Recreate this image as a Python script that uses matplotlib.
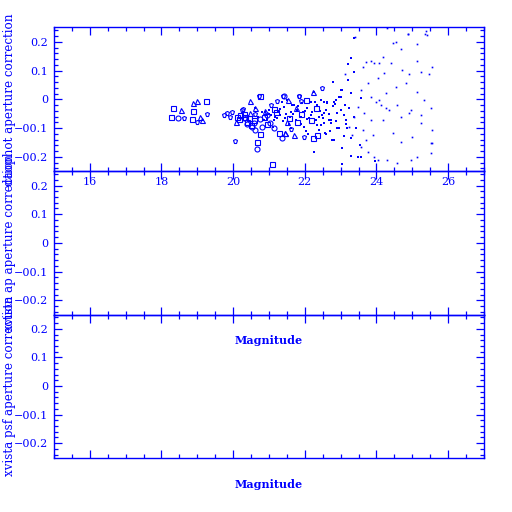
import matplotlib
matplotlib.use("Agg")
import matplotlib.pyplot as plt
from matplotlib.ticker import MultipleLocator

# aperture corrections vs magnitude
sq_mag = [18.31, 18.26, 19.24, 18.87, 18.85, 20.67, 20.11, 20.20, 20.34, 20.39, 20.57, 20.43,
          20.76, 20.76, 21.13, 21.28, 22.02, 22.24, 22.35, 21.79, 22.16, 21.07, 20.95,
          20.15, 20.30, 20.50, 20.85, 21.20, 21.55, 21.90, 22.30]
sq_dy = [-0.030, -0.060, -0.005, -0.040, -0.067, -0.150, -0.061, -0.055, -0.061, -0.078, -0.072, -0.066,
         0.013, -0.122, -0.035, -0.118, -0.002, -0.136, -0.124, -0.078, -0.072, -0.225, -0.087,
         -0.070, -0.050, -0.090, -0.060, -0.045, -0.065, -0.050, -0.030]

tri_mag = [18.54, 18.87, 18.99, 19.08, 19.14, 20.48, 20.07, 20.62, 20.48, 21.53, 21.46, 22.24,
           21.69, 21.51, 21.46, 20.90, 21.75]
tri_dy = [-0.037, -0.012, -0.006, -0.062, -0.073, -0.005, -0.078, -0.031, -0.049, -0.002, -0.118, 0.026,
          -0.124, -0.078, -0.118, -0.040, -0.030]

circ_mag = [18.45, 20.67, 20.53, 20.57, 20.81, 21.37, 20.95, 21.04, 20.62, 20.30, 21.41,
            20.40, 20.75, 21.15]
circ_dy = [-0.066, -0.173, -0.095, -0.083, -0.095, -0.136, -0.055, -0.083, -0.107, -0.066, 0.013,
           -0.085, -0.070, -0.100]

pent_mag = [18.62, 18.98, 19.26, 20.04, 19.74, 19.83, 19.92, 19.97, 20.25, 20.27, 20.72, 21.21,
            21.60, 21.84, 21.88, 21.97, 22.47, 21.40, 21.84, 20.60, 21.05]
pent_dy = [-0.064, -0.080, -0.052, -0.145, -0.055, -0.049, -0.061, -0.043, -0.037, -0.034, 0.011, -0.005,
           -0.104, 0.011, -0.006, -0.130, 0.038, 0.011, 0.012, -0.050, -0.020]

dense_mag = [20.62, 20.85, 20.99, 21.13, 21.18, 21.32, 21.41, 21.51, 21.60, 21.65, 21.74, 21.79,
             21.88, 21.93, 21.97, 22.07, 22.11, 22.16, 22.21, 22.25, 22.30, 22.35, 22.39, 22.44,
             22.49, 22.53, 22.58, 22.63, 22.72, 22.77, 22.86, 22.91, 22.95, 22.95, 23.00, 22.53,
             22.63, 22.81, 23.00, 23.05, 23.28, 22.53, 22.67, 22.72, 22.91, 23.19, 23.14, 23.37,
             23.42, 23.00, 23.23, 23.56, 22.55, 22.81, 23.09, 23.28, 23.54, 23.04, 23.29, 23.47,
             23.96, 22.25, 22.80, 23.37, 23.30, 23.21, 23.36, 23.21, 23.03, 23.56, 21.25, 21.55,
             21.00, 21.70, 22.00, 22.40, 22.10, 21.45, 21.90, 22.60, 20.90, 21.35,
             20.70, 20.80, 20.95, 21.05, 21.22, 21.30, 21.38, 21.48, 21.58, 21.68, 21.82, 21.95,
             22.05, 22.18, 22.28, 22.42, 22.50, 22.68, 22.78, 22.88, 23.10, 23.15, 22.45, 22.70,
             21.10, 21.62, 22.02, 22.33, 22.85, 23.12]
dense_dy = [-0.031, -0.072, -0.037, -0.072, -0.061, -0.055, -0.026, -0.002, -0.043, -0.020, -0.072, -0.037,
            -0.061, -0.014, -0.095, -0.031, -0.066, -0.008, -0.043, 0.026, -0.072, -0.020, -0.107, -0.002,
            -0.055, -0.083, -0.037, -0.008, -0.072, -0.142, -0.002, -0.049, 0.009, -0.101, 0.032, -0.008,
            -0.014, -0.008, 0.009, 0.032, 0.023, -0.049, -0.072, -0.083, -0.101, -0.101, -0.072, -0.061,
            -0.101, -0.037, -0.031, 0.003, -0.118, -0.142, -0.128, -0.136, -0.159, -0.170, -0.197, -0.200,
            -0.214, -0.182, 0.061, 0.214, 0.145, 0.122, 0.096, 0.067, -0.225, -0.200, -0.045, -0.085,
            -0.050, -0.020, -0.040, -0.060, -0.120, -0.065, -0.085, -0.120, -0.045, -0.010,
            -0.060, -0.045, -0.070, -0.055, -0.065, -0.035, -0.075, -0.050, -0.060, -0.050, -0.025, -0.045,
            -0.070, -0.055, -0.010, -0.040, -0.065, -0.050, -0.025, -0.075, -0.055, -0.085, -0.090, -0.110,
            -0.095, -0.100, -0.110, -0.090, -0.015, -0.020]

faint_mag = [23.39, 23.12, 23.62, 23.70, 23.86, 23.93, 24.07, 24.17, 24.40, 24.45, 24.54, 24.68,
             24.87, 25.13, 25.14, 25.36, 25.47, 25.54, 25.24, 24.91, 24.72, 24.21, 24.03, 23.75,
             23.56, 23.84, 24.12, 24.35, 24.68, 24.96, 25.24, 25.52, 25.33, 25.14, 24.82, 24.54,
             24.26, 23.98, 23.84, 24.17, 24.45, 24.68, 25.00, 25.52, 25.52, 25.14, 24.96, 24.58,
             24.30, 24.03, 23.93, 23.75, 23.70, 23.89, 23.56, 23.61, 23.66, 23.47, 23.37, 23.23,
             23.33, 24.07, 24.26, 24.58, 24.91, 25.24, 25.56, 25.56, 24.30, 24.87, 25.38, 25.42]
faint_dy = [0.216, 0.087, 0.113, 0.129, 0.134, 0.125, 0.127, 0.146, 0.125, 0.195, 0.200, 0.174,
            0.227, 0.134, 0.192, 0.226, 0.088, 0.111, 0.096, 0.088, 0.102, 0.090, 0.073, 0.056,
            0.032, 0.009, -0.020, -0.037, -0.060, -0.037, -0.083, -0.031, -0.002, 0.026, 0.056, 0.044,
            0.021, -0.008, -0.072, -0.072, -0.118, -0.147, -0.130, -0.153, -0.186, -0.200, -0.211, -0.223,
            -0.211, -0.211, -0.200, -0.182, -0.142, -0.124, -0.165, -0.107, -0.049, -0.026, -0.061, -0.095,
            -0.124, -0.002, -0.031, -0.020, -0.049, -0.055, -0.107, -0.151, 0.247, 0.226, 0.239, 0.224]

ylabels = ["daophot aperture correction",
           "xvista ap aperture correction",
           "xvista psf aperture correction"]

blue = "#0000ff"
font = "DejaVu Serif"

fig = plt.figure(figsize=(5.12, 5.12), dpi=100)
W = 512.0
left, right = 54 / W, 484 / W
edges = [27.4, 171.2, 314.6, 457.5]

axes = []
for i in range(3):
    top, bot = edges[i], edges[i + 1]
    ax = fig.add_axes([left, 1 - bot / W, right - left, (bot - top) / W])
    ax.set_facecolor("none")
    ax.set_xlim(15, 27)
    ax.set_ylim(-0.25, 0.25)
    ax.xaxis.set_major_locator(MultipleLocator(2))
    ax.xaxis.set_minor_locator(MultipleLocator(0.5))
    ax.yaxis.set_major_locator(MultipleLocator(0.1))
    ax.yaxis.set_minor_locator(MultipleLocator(0.02))
    ax.tick_params(which="both", direction="in", top=True, right=True,
                   colors=blue, width=0.9, labelsize=8, pad=4.3)
    ax.tick_params(which="major", length=6)
    ax.tick_params(which="minor", length=3)
    ax.tick_params(axis="x", labelbottom=(i == 0))
    for s in ax.spines.values():
        s.set_color(blue)
        s.set_linewidth(1.0)
    ax.yaxis.set_major_formatter(matplotlib.ticker.FuncFormatter(
        lambda v, p: "0" if abs(v) < 1e-9 else ("%.1f" % v).replace("-", "\u22120")))
    for lab in ax.get_xticklabels() + ax.get_yticklabels():
        lab.set_fontfamily(font)
    fig.text(10 / W, 1 - (top + bot) / 2 / W, ylabels[i], rotation=90,
             ha="center", va="center", color=blue, fontsize=8.6, family=font)
    axes.append(ax)

ax = axes[0]
ms_open = dict(linestyle="none", markerfacecolor="none", markeredgecolor=blue,
               markeredgewidth=0.8, markersize=3.6)
ax.plot(sq_mag, sq_dy, marker="s", **ms_open)
ax.plot(tri_mag, tri_dy, marker="^", **ms_open)
ax.plot(circ_mag, circ_dy, marker="o", **ms_open)
ax.plot(pent_mag, pent_dy, marker="p", **ms_open)
ax.plot(dense_mag, dense_dy, "s", color=blue, markersize=2.0, markeredgewidth=0)
ax.plot(faint_mag, faint_dy, "s", color=blue, markersize=1.2, markeredgewidth=0)

for ypx in (341, 484):
    fig.text(269 / W, 1 - ypx / W, "Magnitude", ha="center", va="center",
             color=blue, fontsize=8, family=font, fontweight="bold")

fig.savefig("out.png", dpi=100, facecolor="white")
